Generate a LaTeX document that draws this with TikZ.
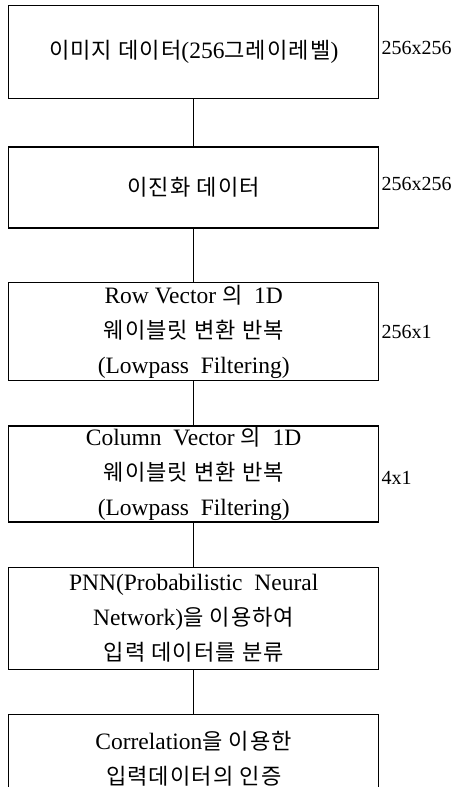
\documentclass[tikz,border=0pt]{standalone}
\usepackage{fontspec}
\setmainfont{Liberation Serif}
\newfontfamily\krfont{Noto Sans CJK KR}[Scale=0.94, LetterSpace=5]
\newcommand{\hg}[1]{{\krfont #1}}
\usetikzlibrary{positioning}

\begin{document}
\begin{tikzpicture}[x=1pt, y=1pt, node distance=44pt,
		box/.style={draw, line width=1.4pt, minimum width=370pt, align=center, inner sep=0pt, font=\fontsize{23.5}{35}\selectfont},
		dim/.style={anchor=west, inner sep=0pt, font=\fontsize{20}{24}\selectfont}]
				\useasboundingbox (0,0) rectangle (455,-787);
				\node[box, minimum height=93pt, anchor=north west] (img) at (8,-5) {\hg{이미지 데이터}(256\hg{그레이레벨})};
				\node[box, minimum height=81pt] (bin) [below=47pt of img] {\hg{이진화 데이터}};
				\node[box, minimum height=98pt] (row) [below=53pt of bin] {Row Vector \hg{의} \ 1D\\ \hg{웨이블릿 변환 반복}\\ (Lowpass \ Filtering)};
				\node[box, minimum height=96pt] (col) [below=of row] {Column \ Vector \hg{의} \ 1D\\ \hg{웨이블릿 변환 반복}\\ (Lowpass \ Filtering)};
				\node[box, minimum height=102pt] (pnn) [below=of col] {PNN(Probabilistic \ Neural\\ Network)\hg{을 이용하여}\\ \hg{입력 데이터를 분류}};
				\node[box, minimum height=88pt] (cor) [below=of pnn] {Correlation\hg{을 이용한}\\ \hg{입력데이터의 인증}};
				\node[dim] (d1) at ([xshift=2pt,yshift=4pt]img.east) {256x256};
				\node[dim] (d2) at ([xshift=2pt,yshift=4pt]bin.east) {256x256};
				\node[dim] (d3) at ([xshift=2pt]row.east) {256x1};
				\node[dim] (d4) at ([xshift=2pt,yshift=-4pt]col.east) {4x1};
				\draw[line width=0.9pt] (img) -- (bin);
				\draw[line width=0.9pt] (bin) -- (row);
				\draw[line width=0.9pt] (row) -- (col);
				\draw[line width=0.9pt] (col) -- (pnn);
				\draw[line width=0.9pt] (pnn) -- (cor);
			\end{tikzpicture}
\end{document}
